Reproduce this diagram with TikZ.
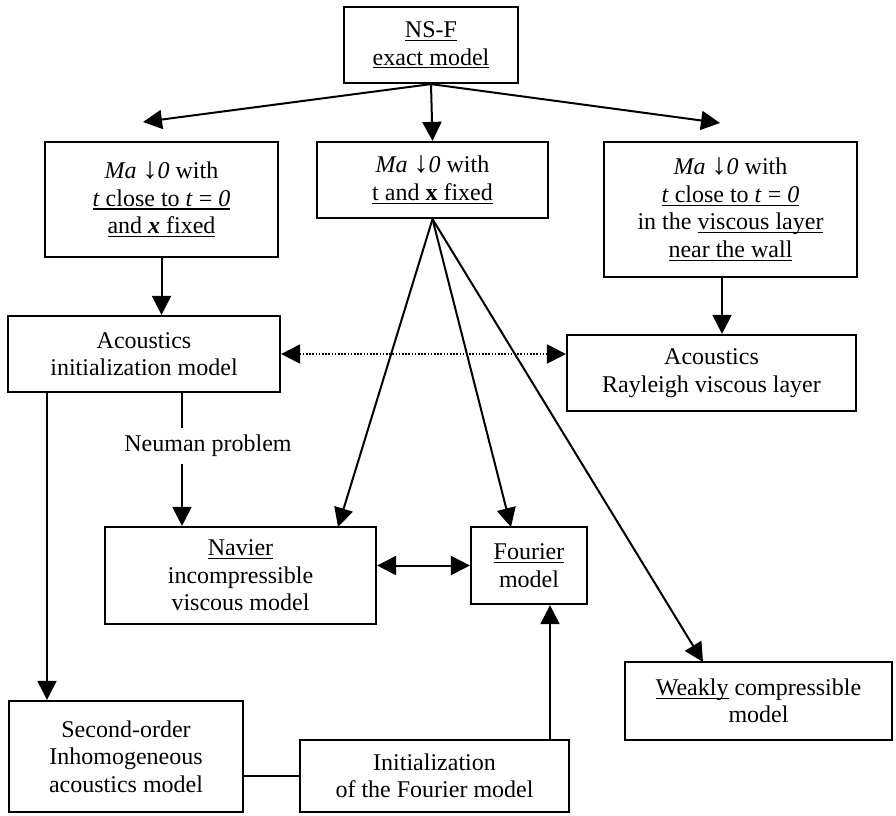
\documentclass[tikz,border=0pt]{standalone}
\usepackage{fontspec}
\setmainfont{Liberation Serif}
\usetikzlibrary{arrows.meta,calc}
% underline at a fixed depth below the baseline
\newcommand{\undl}[1]{\setbox0\hbox{#1}\leavevmode\rlap{\rule[-3.4pt]{\wd0}{1.3pt}}\box0\relax}
\tikzset{
  box/.style={draw, line width=2.2pt, align=center, inner sep=0pt,
    font=\fontsize{24}{27.5}\selectfont},
  lbl/.style={align=center, inner xsep=2pt, inner ysep=7pt,
    font=\fontsize{24}{27.5}\selectfont},
  conn/.style={line width=2pt},
  arr/.style={conn, -{Triangle[length=19pt,width=19pt]}},
  darr/.style={conn, {Triangle[length=19pt,width=19pt]}-{Triangle[length=19pt,width=19pt]}},
  dotarr/.style={darr, dash pattern=on 1.6pt off 1.6pt}
}
% "Ma tends to 0" with a larger slanted arrow
\newcommand{\malim}{\textit{Ma}~\textit{{\fontsize{30}{27.5}\selectfont ↓}0}}
\begin{document}
\begin{tikzpicture}[x=1pt,y=-1pt]
\useasboundingbox (0,0) rectangle (896,815);

% boxes
\node[box, minimum width=174, minimum height=76] (nsf) at (431,45)
  {\undl{NS-F}\\\undl{exact model}};
\node[box, minimum width=233, minimum height=115] (lefta) at (161.5,199.5)
  {\malim{} with\\\undl{\textit{t} close to \textit{t} = \textit{0}}\\\undl{and \textbf{\textit{x}} fixed}};
\node[box, minimum width=231, minimum height=76] (midb) at (432.5,180)
  {\malim{} with\\\undl{t and \textbf{x} fixed}};
\node[box, minimum width=253, minimum height=135] (rightc) at (730.5,209.5)
  {\malim{} with\\\undl{\textit{t} close to \textit{t} = \textit{0}}\\in the \undl{viscous layer}\\\undl{near the wall}};
\node[box, minimum width=272, minimum height=76] (acinit) at (144,354)
  {Acoustics\\initialization model};
\node[box, minimum width=289, minimum height=76] (rayl) at (711.5,373)
  {Acoustics\\Rayleigh viscous layer};
\node[box, minimum width=271, minimum height=97] (navier) at (240.5,575.5)
  {\undl{Navier}\\incompressible\\viscous model};
\node[box, minimum width=116, minimum height=77] (fourier) at (529,565.5)
  {\undl{Fourier}\\model};
\node[box, minimum width=267, minimum height=78] (weakly) at (758.5,701)
  {\undl{Weakly} compressible\\model};
\node[box, minimum width=234, minimum height=111] (second) at (126,756.5)
  {Second-order\\Inhomogeneous\\acoustics model};
\node[box, minimum width=269, minimum height=72] (initf) at (434.5,776)
  {Initialization\\of the Fourier model};

% label on the Neumann branch
\node[lbl] (neuman) at (208,446) {Neuman problem};

% free ends and guide columns
\coordinate (tipL) at (143,122);
\coordinate (tipR) at (720,123);
\coordinate (colC) at (722,0);
\coordinate (colN) at (182,0);
\coordinate (colS) at (47,0);
\coordinate (colF) at (550,0);
\coordinate (inNav) at (338,527);
\coordinate (inFou) at (511,527);
\coordinate (inWk) at (703,662);

% arrows from the exact model
\draw[arr] (nsf.south) -- (tipL);
\draw[arr] (nsf.south) -- (midb.north);
\draw[arr] (nsf.south) -- (tipR);

% vertical links
\draw[arr] (lefta.south) -- (acinit.north -| lefta.south);
\draw[arr] (rightc.south -| colC) -- (rayl.north -| colC);

% dotted coupling
\draw[dotarr] (acinit.east) -- (acinit.east -| rayl.west);

% fan from the middle box
\draw[arr] (midb.south) -- (inNav);
\draw[arr] (midb.south) -- (inFou);
\draw[arr] (midb.south) -- (inWk);

% Neumann problem branch
\draw[conn] (acinit.south -| colN) -- (neuman.north -| colN);
\draw[arr] (neuman.south -| colN) -- (navier.north -| colN);

% second-order branch
\draw[arr] (acinit.south -| colS) -- (second.north -| colS);
\draw[conn] (initf.west -| second.east) -- (initf.west);
\draw[arr] (initf.north -| colF) -- (fourier.south -| colF);

% Navier <-> Fourier
\draw[darr] (fourier.west -| navier.east) -- (fourier.west);
\end{tikzpicture}
\end{document}
